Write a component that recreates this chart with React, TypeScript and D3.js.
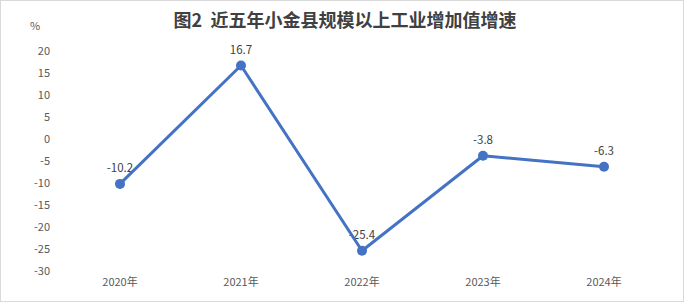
import React from "react";
import * as d3 from "d3";

const title = "图2  近五年小金县规模以上工业增加值增速";
const unitLabel = "%";
const categories = ["2020年", "2021年", "2022年", "2023年", "2024年"];
const values = [-10.2, 16.7, -25.4, -3.8, -6.3];
const yTicks = [20, 15, 10, 5, 0, -5, -10, -15, -20, -25, -30];

const W = 684;
const H = 302;
const FONT = "'Noto Sans CJK SC', 'Noto Sans', sans-serif";

export default function App() {
  const x = d3.scaleBand<string>().domain(categories).range([59.5, 664.5]);
  const y = d3.scaleLinear().domain([-30, 20]).range([271, 51]);
  const cx = (c: string) => (x(c) as number) + x.bandwidth() / 2;
  const line = d3
    .line<number>()
    .x((_, i) => cx(categories[i]))
    .y((d) => y(d));

  return (
    <svg
      width={W}
      height={H}
      style={{ position: "absolute", left: 0, top: 0, background: "#fff" }}
      fontFamily={FONT}
    >
      <rect x={0.5} y={0.5} width={W - 1} height={H - 1} fill="#fff" stroke="#d9d9d9" />
      <text
        x={345}
        y={27}
        textAnchor="middle"
        fontSize={18}
        fontWeight="bold"
        fill="#404040"
        style={{ whiteSpace: "pre" }}
      >
        {title}
      </text>
      <text x={35} y={30} textAnchor="middle" fontSize={11} fill="#595959">
        {unitLabel}
      </text>
      {yTicks.map((t) => (
        <text key={t} x={50} y={y(t)} dy="0.35em" textAnchor="end" fontSize={11} fill="#595959">
          {t}
        </text>
      ))}
      {categories.map((c) => (
        <text key={c} x={cx(c)} y={282} dy="0.35em" textAnchor="middle" fontSize={11} fill="#595959">
          {c}
        </text>
      ))}
      {values.map((v, i) => (
        <text
          key={i}
          x={cx(categories[i])}
          y={y(v) - 16}
          dy="0.35em"
          textAnchor="middle"
          fontSize={11.5}
          fill="#404040"
        >
          {v}
        </text>
      ))}
      <path d={line(values) || ""} fill="none" stroke="#4472C4" strokeWidth={3} strokeLinejoin="round" />
      {values.map((v, i) => (
        <circle key={i} cx={cx(categories[i])} cy={y(v)} r={5} fill="#4472C4" />
      ))}
    </svg>
  );
}
